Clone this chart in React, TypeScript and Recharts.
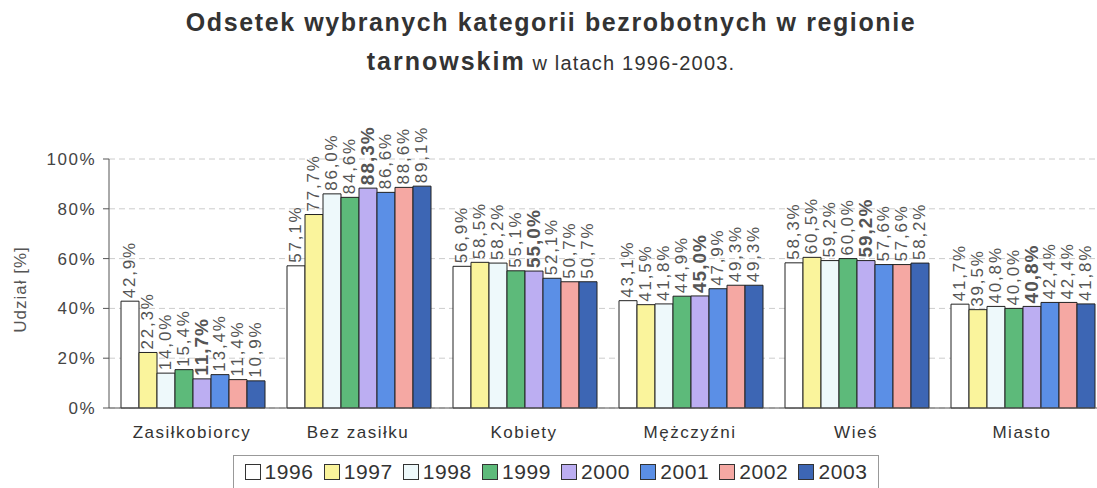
import { BarChart, Bar, XAxis, YAxis, CartesianGrid, LabelList } from 'recharts'

const categories = ['Zasiłkobiorcy', 'Bez zasiłku', 'Kobiety', 'Mężczyźni', 'Wieś', 'Miasto']
const years = ['1996', '1997', '1998', '1999', '2000', '2001', '2002', '2003']

const v1996 = [42.9, 57.1, 56.9, 43.1, 58.3, 41.7]
const v1997 = [22.3, 77.7, 58.5, 41.5, 60.5, 39.5]
const v1998 = [14.0, 86.0, 58.2, 41.8, 59.2, 40.8]
const v1999 = [15.4, 84.6, 55.1, 44.9, 60.0, 40.0]
const v2000 = [11.7, 88.3, 55.0, 45.0, 59.2, 40.8]
const v2001 = [13.4, 86.6, 52.1, 47.9, 57.6, 42.4]
const v2002 = [11.4, 88.6, 50.7, 49.3, 57.6, 42.4]
const v2003 = [10.9, 89.1, 50.7, 49.3, 58.2, 41.8]

const seriesValues = [v1996, v1997, v1998, v1999, v2000, v2001, v2002, v2003]
const colors = ['#ffffff', '#faf49c', '#eef9fb', '#5dba7a', '#bcaef2', '#5b8fe6', '#f5a8a3', '#3d66b4']
const yTicks = [0, 20, 40, 60, 80, 100]

const data = categories.map((name, i) => {
  const row: Record<string, string | number> = { name }
  years.forEach((y, j) => {
    row[y] = seriesValues[j][i]
  })
  return row
})

const FONT = '"Liberation Sans", Arial, sans-serif'

const fmt = (v: number) => v.toFixed(1).replace('.', ',') + '%'

function makeLabel(bold: boolean) {
  return (props: any) => {
    const { x, y, width, value } = props
    const cx = x + width / 2
    const cy = y - 3
    return (
      <text
        x={cx}
        y={cy}
        transform={`rotate(-90 ${cx} ${cy})`}
        textAnchor="start"
        dominantBaseline="central"
        fontSize={bold ? 19 : 17}
        fontWeight={bold ? 'bold' : 'normal'}
        letterSpacing={bold ? 1 : 1.8}
        fill="#555"
        fontFamily={FONT}
      >
        {fmt(value)}
      </text>
    )
  }
}

export default function App() {
  return (
    <div style={{ position: 'absolute', left: 0, top: 0, width: 1097, height: 488, overflow: 'hidden', background: '#fff', fontFamily: FONT }}>
      <div style={{ position: 'absolute', left: 0, width: 1102, top: 8, textAlign: 'center', fontSize: 25, fontWeight: 'bold', letterSpacing: 1.6, color: '#333' }}>
        Odsetek wybranych kategorii bezrobotnych w regionie
      </div>
      <div style={{ position: 'absolute', left: 0, width: 1102, top: 47, textAlign: 'center', color: '#333' }}>
        <span style={{ fontSize: 25, fontWeight: 'bold', letterSpacing: 2 }}>tarnowskim</span>
        <span style={{ fontSize: 20, letterSpacing: 1.2 }}> w latach 1996-2003.</span>
      </div>
      <div style={{ position: 'absolute', left: 0, top: 0 }}>
        <BarChart width={1110} height={488} data={data} margin={{ top: 159, right: 5, bottom: 50, left: 0 }} barGap={0} barCategoryGap={12}>
          <CartesianGrid vertical={false} stroke="#ccc" strokeDasharray="6 4" />
          <XAxis dataKey="name" height={30} tickLine={false} axisLine={{ stroke: '#555' }} tick={{ fontSize: 17, fill: '#333', fontFamily: FONT, letterSpacing: 1.5 }} tickMargin={12} />
          <YAxis
            width={109}
            domain={[0, 100]}
            ticks={yTicks}
            tickFormatter={(v) => `${v}%`}
            axisLine={{ stroke: '#555' }}
            tickLine={{ stroke: '#555' }}
            tickSize={6}
            tickMargin={7}
            tick={{ fontSize: 17, fill: '#444', fontFamily: FONT, letterSpacing: 1.5 }}
            label={{ value: 'Udział [%]', angle: -90, position: 'insideLeft', offset: 20, dy: 6, style: { fontSize: 17, fill: '#555', textAnchor: 'middle', letterSpacing: 1 } }}
          />
          {years.map((y, j) => (
            <Bar key={y} dataKey={y} fill={colors[j]} stroke="#222" strokeWidth={1} isAnimationActive={false}>
              <LabelList dataKey={y} content={makeLabel(y === '2000')} />
            </Bar>
          ))}
        </BarChart>
      </div>
      <div
        style={{
          position: 'absolute',
          left: 233,
          top: 455,
          width: 646,
          height: 34,
          border: '1px solid #999',
          boxSizing: 'border-box',
          display: 'flex',
          alignItems: 'center',
          justifyContent: 'center',
          gap: 10,
          fontSize: 21,
          letterSpacing: 0.6,
          color: '#333',
        }}
      >
        {years.map((y, j) => (
          <span key={y} style={{ display: 'flex', alignItems: 'center' }}>
            <span style={{ display: 'inline-block', width: 14, height: 14, background: colors[j], border: '1px solid #333', marginRight: 4 }} />
            {y}
          </span>
        ))}
      </div>
    </div>
  )
}
